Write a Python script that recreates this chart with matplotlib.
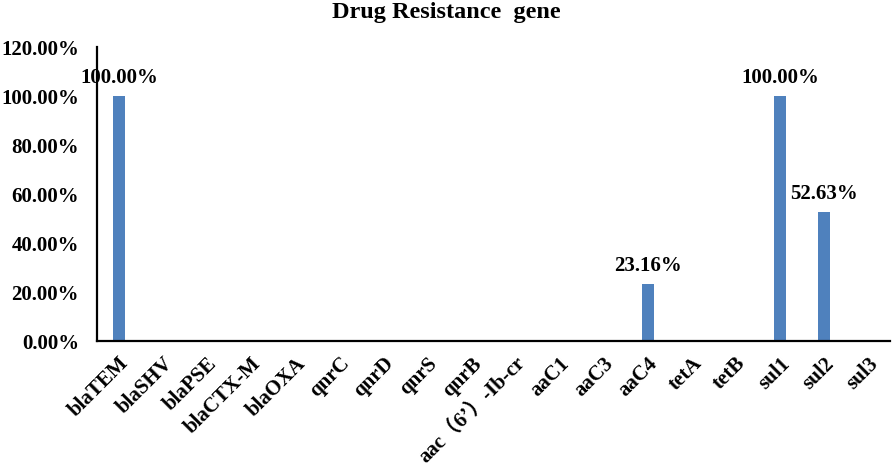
import numpy as np
import matplotlib.pyplot as plt
from matplotlib.ticker import FuncFormatter

genes = ['blaTEM', 'blaSHV', 'blaPSE', 'blaCTX-M', 'blaOXA', 'qnrC', 'qnrD', 'qnrS', 'qnrB',
         'aac（6’）-Ib-cr', 'aaC1', 'aaC3', 'aaC4', 'tetA', 'tetB', 'sul1', 'sul2', 'sul3']
rates = [100.00, 0, 0, 0, 0, 0, 0, 0, 0, 0, 0, 0, 23.16, 0, 0, 100.00, 52.63, 0]
yticks = [0, 20, 40, 60, 80, 100, 120]

plt.rcParams['font.family'] = ['Liberation Serif', 'Noto Sans CJK SC']
plt.rcParams['font.weight'] = 'bold'

fig = plt.figure(figsize=(8.93, 4.71), dpi=100)
ax = fig.add_axes([0.1086, 0.276, 0.888, 0.624])

x = np.arange(len(genes))
bars = ax.bar(x, rates, width=0.27, color='#4F81BD')
for b, v in zip(bars, rates):
    if v > 0:
        ax.annotate(f'{v:.2f}%', (b.get_x() + b.get_width() / 2, v), xytext=(0, 6),
                    textcoords='offset points', ha='center', va='bottom',
                    fontsize=15, fontweight='bold')

ax.set_xlim(-0.5, len(genes) - 0.5)
ax.set_ylim(0, 120)
ax.set_yticks(yticks)
ax.yaxis.set_major_formatter(FuncFormatter(lambda v, p: f'{v:.2f}%'))
ax.set_xticks(x)
ax.set_xticklabels(genes, rotation=45, ha='right', rotation_mode='anchor')
ax.tick_params(axis='both', length=0, labelsize=15)
ax.tick_params(axis='y', pad=13)
ax.tick_params(axis='x', pad=9)
for lab in ax.get_xticklabels() + ax.get_yticklabels():
    lab.set_fontweight('bold')

for s in ['top', 'right']:
    ax.spines[s].set_visible(False)
for s in ['left', 'bottom']:
    ax.spines[s].set_linewidth(1.6)
    ax.spines[s].set_color('black')

fig.suptitle('Drug Resistance  gene', y=0.995, fontsize=17.5, fontweight='bold')

fig.savefig('out.png', dpi=100)
